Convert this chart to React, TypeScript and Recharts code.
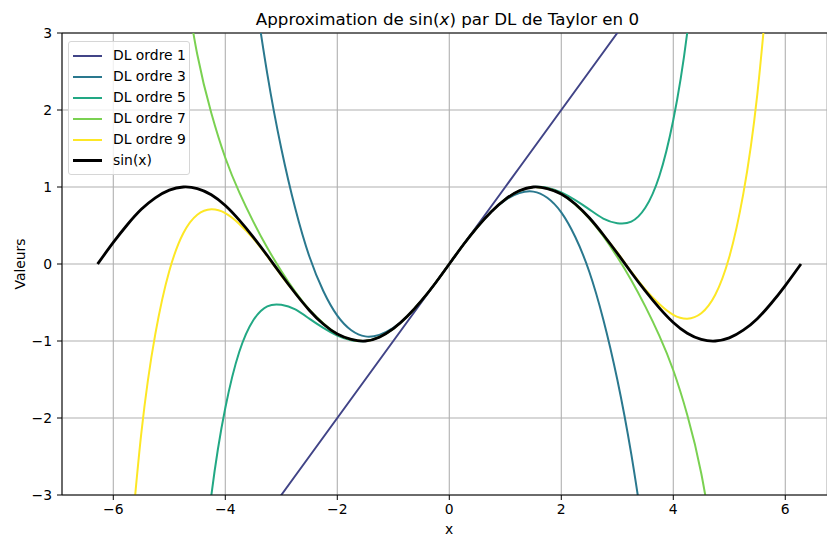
import { LineChart, Line, XAxis, YAxis, CartesianGrid, Legend, ReferenceLine } from 'recharts';

// x sample positions (shared by all series)
const xs = [
  -6.28, -6, -5.75, -5.5, -5.25, -5, -4.75, -4.5, -4.25, -4, -3.75, -3.5, -3.25, -3, -2.75, -2.5,
  -2.25, -2, -1.75, -1.5, -1.25, -1, -0.75, -0.5, -0.25, 0, 0.25, 0.5, 0.75, 1, 1.25, 1.5, 1.75,
  2, 2.25, 2.5, 2.75, 3, 3.25, 3.5, 3.75, 4, 4.25, 4.5, 4.75, 5, 5.25, 5.5, 5.75, 6, 6.28,
];

const sinVals = [
  0, 0.28, 0.51, 0.71, 0.86, 0.96, 1.0, 0.98, 0.9, 0.76, 0.57, 0.35, 0.11, -0.14, -0.38, -0.6,
  -0.78, -0.91, -0.98, -1.0, -0.95, -0.84, -0.68, -0.48, -0.25, 0, 0.25, 0.48, 0.68, 0.84, 0.95,
  1.0, 0.98, 0.91, 0.78, 0.6, 0.38, 0.14, -0.11, -0.35, -0.57, -0.76, -0.9, -0.98, -1.0, -0.96,
  -0.86, -0.71, -0.51, -0.28, 0,
];

const n = null;

const dl1 = [
  n, n, n, n, n, n, n, n, n, n, n, n,
  -3.25, -3, -2.75, -2.5, -2.25, -2, -1.75, -1.5, -1.25, -1, -0.75, -0.5, -0.25, 0,
  0.25, 0.5, 0.75, 1, 1.25, 1.5, 1.75, 2, 2.25, 2.5, 2.75, 3, 3.25,
  n, n, n, n, n, n, n, n, n, n, n, n,
];

const dl3 = [
  n, n, n, n, n, n, n, n, n, n, n,
  3.65, 2.47, 1.5, 0.72, 0.1, -0.35, -0.67, -0.86, -0.94, -0.92, -0.83, -0.68, -0.48, -0.25, 0,
  0.25, 0.48, 0.68, 0.83, 0.92, 0.94, 0.86, 0.67, 0.35, -0.1, -0.72, -1.5, -2.47, -3.65,
  n, n, n, n, n, n, n, n, n, n, n,
];

const dl5 = [
  n, n, n, n, n, n, n,
  -4.69, -3.01, -1.87, -1.14, -0.73, -0.55, -0.53, -0.59, -0.71, -0.83, -0.93, -0.99, -1.0, -0.95,
  -0.84, -0.68, -0.48, -0.25, 0,
  0.25, 0.48, 0.68, 0.84, 0.95, 1.0, 0.99, 0.93, 0.83, 0.71, 0.59, 0.53, 0.55, 0.73, 1.14, 1.87,
  3.01, 4.69,
  n, n, n, n, n, n, n,
];

const dl7 = [
  n, n, n, n, n, n,
  3.79, 2.72, 1.96, 1.38, 0.93, 0.55, 0.21, -0.09, -0.36, -0.59, -0.77, -0.91, -0.98, -1.0, -0.95,
  -0.84, -0.68, -0.48, -0.25, 0,
  0.25, 0.48, 0.68, 0.84, 0.95, 1.0, 0.98, 0.91, 0.77, 0.59, 0.36, 0.09, -0.21, -0.55, -0.93,
  -1.38, -1.96, -2.72, -3.79,
  n, n, n, n, n, n,
];

const dl9 = [
  n, n,
  -4.15, -2.2, -0.91, -0.09, 0.4, 0.64, 0.71, 0.66, 0.52, 0.33, 0.1, -0.15, -0.38, -0.6, -0.78,
  -0.91, -0.98, -1.0, -0.95, -0.84, -0.68, -0.48, -0.25, 0,
  0.25, 0.48, 0.68, 0.84, 0.95, 1.0, 0.98, 0.91, 0.78, 0.6, 0.38, 0.15, -0.1, -0.33, -0.52, -0.66,
  -0.71, -0.64, -0.4, 0.09, 0.91, 2.2, 4.15,
  n, n,
];

const xTicks = [-6, -4, -2, 0, 2, 4, 6];
const yTicks = [-3, -2, -1, 0, 1, 2, 3];

const seriesNames = ['DL ordre 1', 'DL ordre 3', 'DL ordre 5', 'DL ordre 7', 'DL ordre 9', 'sin(x)'];
const seriesColors = ['#414487', '#2a788e', '#22a884', '#7ad151', '#fde725', '#000000'];
const seriesWidths = [2, 2, 2, 2, 2, 2.8];

const data = xs.map((x, i) => ({
  x,
  dl1: dl1[i],
  dl3: dl3[i],
  dl5: dl5[i],
  dl7: dl7[i],
  dl9: dl9[i],
  sin: sinVals[i],
}));

const keys = ['dl1', 'dl3', 'dl5', 'dl7', 'dl9', 'sin'];

const FONT = '"DejaVu Sans", sans-serif';
const fmt = (v: number) => String(v).replace('-', '\u2212');

function LegendBox() {
  return (
    <div
      style={{
        fontFamily: FONT,
        fontSize: 13.9,
        background: 'rgba(255,255,255,0.8)',
        border: '1px solid #d6d6d6',
        borderRadius: 3,
        width: 122,
        padding: '3px 0',
        boxSizing: 'border-box',
      }}
    >
      {seriesNames.map((name, i) => (
        <div key={name} style={{ display: 'flex', alignItems: 'center', height: 21 }}>
          <div
            style={{
              marginLeft: 4,
              width: 29,
              height: seriesWidths[i],
              background: seriesColors[i],
            }}
          />
          <span style={{ marginLeft: 11, color: '#000', lineHeight: '21px' }}>{name}</span>
        </div>
      ))}
    </div>
  );
}

export default function App() {
  return (
    <div style={{ position: 'fixed', left: 0, top: 0, width: 827, height: 540, background: '#fff', overflow: 'hidden' }}>
      <LineChart width={827} height={540} data={data} margin={{ top: 33, right: 0, bottom: 0, left: 0 }}>
        <CartesianGrid stroke="#b0b0b0" strokeWidth={1.1} />
        <XAxis
          dataKey="x"
          type="number"
          domain={[-6.916, 6.745]}
          allowDataOverflow
          ticks={xTicks}
          tickFormatter={fmt}
          height={45}
          tickSize={5}
          tickMargin={4}
          stroke="#000"
          tick={{ fill: '#000', fontSize: 13.9, fontFamily: FONT }}
        />
        <YAxis
          type="number"
          domain={[-3, 3]}
          allowDataOverflow
          ticks={yTicks}
          tickFormatter={fmt}
          width={62}
          tickSize={5}
          tickMargin={5}
          stroke="#000"
          tick={{ fill: '#000', fontSize: 13.9, fontFamily: FONT }}
        />
        <ReferenceLine y={3} stroke="#000" strokeWidth={1} />
        {keys.map((k, i) => (
          <Line
            key={k}
            dataKey={k}
            name={seriesNames[i]}
            type={k === 'dl1' ? 'linear' : 'natural'}
            stroke={seriesColors[i]}
            strokeWidth={seriesWidths[i]}
            dot={false}
            activeDot={false}
            isAnimationActive={false}
          />
        ))}
        <Legend
          layout="vertical"
          align="center"
          verticalAlign="middle"
          wrapperStyle={{ left: 68, top: 41, width: 122 }}
          content={() => <LegendBox />}
        />
      </LineChart>
      <svg width={827} height={540} style={{ position: 'absolute', left: 0, top: 0, pointerEvents: 'none' }}>
        <text x={447.5} y={25} textAnchor="middle" fontSize={16.7} fontFamily={FONT} fill="#000">
          Approximation de sin(<tspan fontStyle="italic">x</tspan>) par DL de Taylor en 0
        </text>
        <text transform="translate(25,264) rotate(-90)" textAnchor="middle" fontSize={13.9} fontFamily={FONT} fill="#000">
          Valeurs
        </text>
        <text x={449} y={534} textAnchor="middle" fontSize={13.9} fontFamily={FONT} fill="#000">
          x
        </text>
      </svg>
    </div>
  );
}
